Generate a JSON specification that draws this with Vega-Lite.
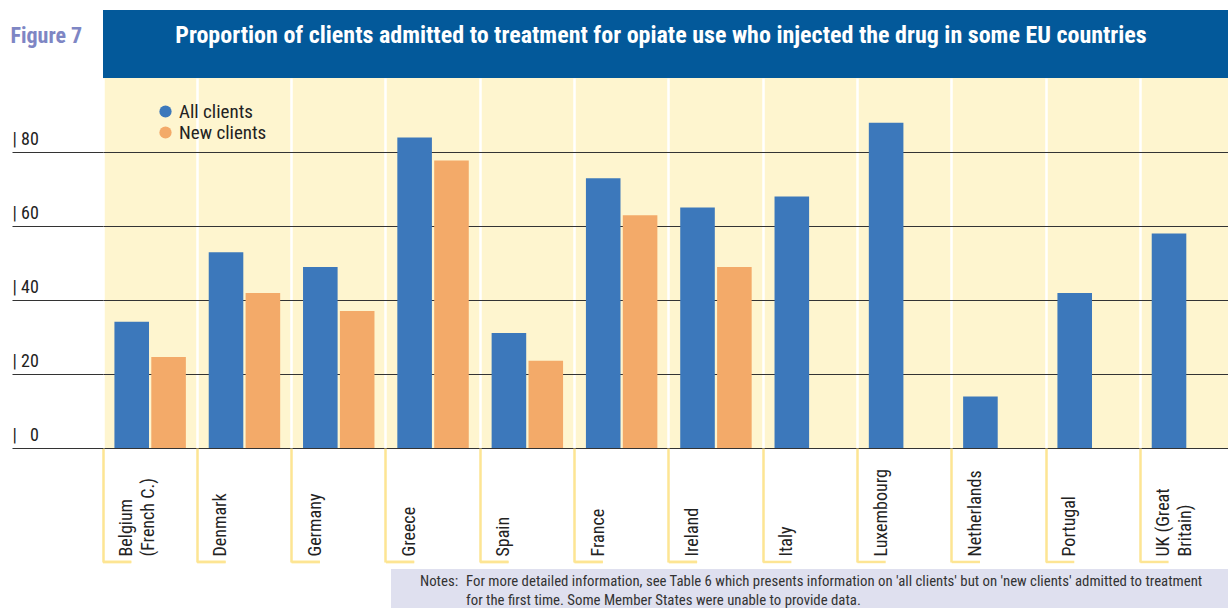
{
  "$schema": "https://vega.github.io/schema/vega-lite/v6.json",
  "width": 1125,
  "height": 370,
  "autosize": {"type": "none"},
  "padding": {"left": 103, "top": 78, "right": 0, "bottom": 160},
  "background": "white",
  "config": {
    "view": {"fill": "#fef5cf", "stroke": null},
    "font": "Roboto Condensed, Liberation Sans Narrow, Roboto, sans-serif"
  },
  "data": {
    "values": [
      {"country": "Belgium (French C.)", "series": "All clients", "value": 34.1},
      {"country": "Belgium (French C.)", "series": "New clients", "value": 24.6},
      {"country": "Denmark", "series": "All clients", "value": 52.9},
      {"country": "Denmark", "series": "New clients", "value": 41.9},
      {"country": "Germany", "series": "All clients", "value": 48.9},
      {"country": "Germany", "series": "New clients", "value": 37.0},
      {"country": "Greece", "series": "All clients", "value": 83.9},
      {"country": "Greece", "series": "New clients", "value": 77.7},
      {"country": "Spain", "series": "All clients", "value": 31.1},
      {"country": "Spain", "series": "New clients", "value": 23.6},
      {"country": "France", "series": "All clients", "value": 72.9},
      {"country": "France", "series": "New clients", "value": 62.9},
      {"country": "Ireland", "series": "All clients", "value": 65.0},
      {"country": "Ireland", "series": "New clients", "value": 48.9},
      {"country": "Italy", "series": "All clients", "value": 68.0},
      {"country": "Luxembourg", "series": "All clients", "value": 87.9},
      {"country": "Netherlands", "series": "All clients", "value": 13.9},
      {"country": "Portugal", "series": "All clients", "value": 41.9},
      {"country": "UK (Great Britain)", "series": "All clients", "value": 58.0}
    ]
  },
  "layer": [
    {
      "layer": [
        {
          "data": {"values": [{"part": "header"}]},
          "mark": {"type": "rect", "color": "#03599a"},
          "encoding": {
            "y": {"datum": 100, "type": "quantitative", "scale": {"domain": [0, 100]}},
            "y2": {"datum": 118.4}
          }
        },
        {
          "mark": {"type": "bar"},
          "encoding": {
            "x": {
              "field": "country",
              "type": "nominal",
              "sort": null,
              "scale": {"range": [0, 1131.6], "paddingInner": 0, "paddingOuter": 0},
              "axis": {
                "title": null,
                "domain": false,
                "bandPosition": 0,
                "grid": true,
                "gridColor": "white",
                "gridWidth": 2.5,
                "tickColor": "#fde593",
                "tickWidth": 2.5,
                "tickSize": 114,
                "labelAngle": 270,
                "labelAlign": "left",
                "labelBaseline": "top",
                "labelOffset": -32,
                "labelPadding": -6,
                "labelFontSize": 18,
                "labelColor": "#222222",
                "labelLineHeight": 22,
                "labelExpr": "datum.value == 'Belgium (French C.)' ? ['Belgium', '(French C.)'] : datum.value == 'UK (Great Britain)' ? ['UK (Great', 'Britain)'] : datum.label"
              }
            },
            "xOffset": {
              "field": "series",
              "scale": {"domain": ["All clients", "New clients"], "paddingInner": 0.062, "paddingOuter": 0.31}
            },
            "y": {
              "field": "value",
              "type": "quantitative",
              "scale": {"domain": [0, 100]},
              "axis": {
                "title": "Figure 7",
                "titleAngle": 0,
                "titleAlign": "left",
                "titleBaseline": "middle",
                "titleX": -93,
                "titleY": -43,
                "titleFontSize": 22,
                "titleFontWeight": "bold",
                "titleColor": "#7e86c4",
                "values": [0, 20, 40, 60, 80],
                "domain": false,
                "grid": true,
                "gridColor": "#333333",
                "gridWidth": 1.2,
                "tickSize": 91,
                "tickColor": "#333333",
                "tickWidth": 1.2,
                "labelAlign": "left",
                "labelBaseline": "alphabetic",
                "labelOffset": -8,
                "labelPadding": 0,
                "labelFontSize": 18,
                "labelColor": "#222222",
                "labelExpr": "datum.value == 0 ? '|\u00a0\u2007' + datum.label : '|\u00a0' + datum.label"
              }
            },
            "color": {
              "field": "series",
              "type": "nominal",
              "scale": {"domain": ["All clients", "New clients"], "range": ["#3c78bb", "#f3aa69"]},
              "legend": {
                "orient": "none",
                "legendX": 53,
                "legendY": 24,
                "title": null,
                "symbolType": "circle",
                "symbolSize": 150,
                "symbolStrokeWidth": 0,
                "labelFontSize": 19,
                "labelColor": "#222222",
                "labelOffset": 4,
                "rowPadding": 1,
                "padding": 0
              }
            }
          }
        },
        {
          "mark": {"type": "rule", "color": "#fde593", "strokeWidth": 2.5},
          "encoding": {
            "x": {"field": "country", "type": "nominal", "sort": null, "bandPosition": 0},
            "x2": {"field": "country", "bandPosition": 0.3},
            "y": {"datum": -30.8, "type": "quantitative", "scale": {"domain": [0, 100]}}
          }
        }
      ]
    },
    {
      "data": {"values": [{"part": "notes"}]},
      "layer": [
        {
          "mark": {"type": "rect", "color": "#dfe0ef"},
          "encoding": {
            "x": {"datum": 0.256, "type": "quantitative", "scale": {"domain": [0, 1]}, "axis": null},
            "x2": {"datum": 1},
            "y": {"datum": -32.7, "type": "quantitative", "scale": {"domain": [0, 100]}},
            "y2": {"datum": -43.5}
          }
        },
        {
          "mark": {"type": "text", "align": "center", "baseline": "middle", "fontSize": 24, "fontWeight": "bold", "color": "white"},
          "encoding": {
            "x": {"datum": 0.496, "type": "quantitative", "scale": {"domain": [0, 1]}, "axis": null},
            "y": {"datum": 111.4, "type": "quantitative", "scale": {"domain": [0, 100]}},
            "text": {"value": "Proportion of clients admitted to treatment for opiate use who injected the drug in some EU countries"}
          }
        },
        {
          "mark": {"type": "text", "align": "left", "baseline": "middle", "fontSize": 14.8, "color": "#333333"},
          "encoding": {
            "x": {"datum": 0.2818, "type": "quantitative", "scale": {"domain": [0, 1]}, "axis": null},
            "y": {"datum": -36.2, "type": "quantitative", "scale": {"domain": [0, 100]}},
            "text": {"value": "Notes:"}
          }
        },
        {
          "mark": {"type": "text", "align": "left", "baseline": "middle", "fontSize": 14.8, "lineHeight": 19, "color": "#333333"},
          "encoding": {
            "x": {"datum": 0.3227, "type": "quantitative", "scale": {"domain": [0, 1]}, "axis": null},
            "y": {"datum": -36.2, "type": "quantitative", "scale": {"domain": [0, 100]}},
            "text": {"value": ["For more detailed information, see Table 6 which presents information on 'all clients' but on 'new clients' admitted to treatment", "for the first time. Some Member States were unable to provide data."]}
          }
        }
      ]
    }
  ],
  "resolve": {"scale": {"x": "independent"}}
}
